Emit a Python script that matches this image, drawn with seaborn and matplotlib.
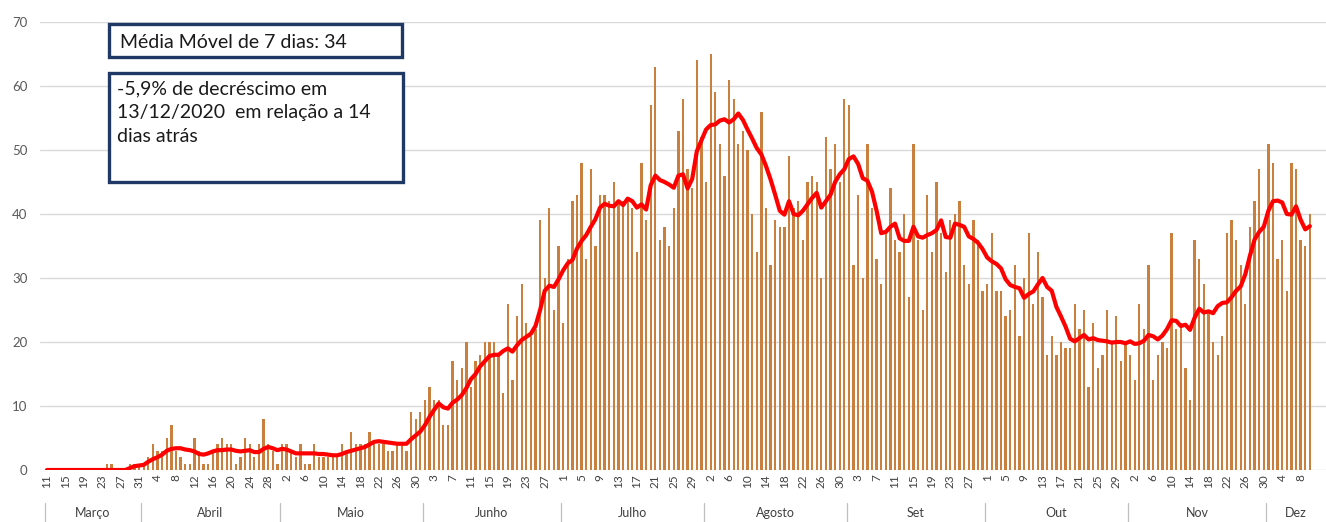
import numpy as np
import pandas as pd
import matplotlib
matplotlib.use("Agg")
import matplotlib.pyplot as plt
import seaborn as sns
from matplotlib.patches import Rectangle

# ---------------- data ----------------
start_date = "2020-03-11"
daily_cases = [
    0, 0, 0, 0, 0, 0, 0, 0, 0, 0,
    0, 0, 0, 1, 1, 0, 0, 0, 1, 1,
    1, 1, 2, 4, 3, 3, 5, 7, 3, 2,
    1, 1, 5, 3, 1, 1, 3, 4, 5, 4,
    4, 1, 2, 5, 4, 2, 4, 8, 4, 3,
    1, 4, 4, 3, 2, 4, 1, 1, 4, 2,
    2, 2, 2, 2, 4, 3, 6, 4, 4, 4,
    6, 4, 4, 4, 3, 3, 4, 4, 3, 9,
    8, 9, 11, 13, 11, 11, 7, 7, 17, 14,
    16, 20, 13, 17, 18, 20, 20, 20, 18, 12,
    26, 14, 24, 29, 23, 21, 22, 39, 30, 41,
    25, 35, 23, 33, 42, 43, 48, 33, 47, 35,
    43, 43, 42, 45, 42, 42, 42, 41, 34, 48,
    39, 57, 63, 36, 38, 35, 41, 53, 58, 47,
    44, 64, 52, 45, 65, 59, 51, 46, 61, 58,
    51, 53, 50, 40, 34, 56, 41, 32, 39, 38,
    38, 49, 41, 42, 36, 45, 46, 45, 30, 52,
    47, 51, 45, 58, 57, 32, 43, 30, 51, 41,
    33, 29, 37, 44, 36, 34, 40, 27, 51, 36,
    25, 43, 34, 45, 37, 31, 39, 40, 42, 32,
    29, 39, 36, 28, 29, 37, 28, 28, 24, 25,
    32, 21, 30, 37, 26, 34, 27, 18, 21, 18,
    20, 19, 19, 26, 22, 25, 13, 23, 16, 18,
    25, 20, 24, 17, 20, 18, 14, 26, 22, 32,
    14, 18, 20, 19, 37, 22, 23, 16, 11, 36,
    33, 29, 25, 20, 18, 21, 37, 39, 36, 32,
    26, 38, 42, 47, 38, 51, 48, 33, 36, 28,
    48, 47, 36, 35, 40,
]
moving_avg = [
    0, 0, 0, 0, 0, 0, 0, 0, 0, 0,
    0, 0, 0, 0, 0, 0, 0, 0, 0.3, 0.6,
    0.7, 0.8, 1.3, 1.7, 2.0, 2.4, 3.0, 3.3, 3.4, 3.4,
    3.2, 3.1, 2.9, 2.5, 2.4, 2.6, 2.9, 3.1, 3.1, 3.2,
    3.2, 3.0, 2.9, 3.0, 3.1, 2.8, 2.8, 3.3, 3.6, 3.4,
    3.1, 3.3, 3.2, 2.9, 2.6, 2.6, 2.6, 2.6, 2.6, 2.5,
    2.5, 2.4, 2.3, 2.3, 2.5, 2.8, 3.0, 3.2, 3.4, 3.6,
    4.0, 4.4, 4.5, 4.4, 4.3, 4.2, 4.1, 4.1, 4.1, 4.8,
    5.4, 6.0, 7.0, 8.3, 9.4, 10.4, 9.8, 9.6, 10.5, 11.0,
    11.7, 12.8, 14.2, 15.0, 16.2, 17.0, 17.8, 18.0, 18.0, 18.6,
    19.0, 18.5, 19.5, 20.3, 20.8, 21.3, 22.5, 25.0, 28.0, 28.8,
    28.6, 29.8, 31.2, 32.3, 32.8, 34.6, 35.8, 36.7, 38.0, 39.2,
    41.0, 41.6, 41.3, 41.2, 42.0, 41.4, 42.4, 42.0, 41.0, 41.5,
    40.7, 44.5, 46.0, 45.3, 45.0, 44.6, 44.1, 46.0, 46.2, 44.0,
    45.5, 49.8, 51.5, 53.2, 53.9, 54.0, 54.6, 54.8, 54.3, 54.8,
    55.7, 54.7, 53.2, 51.8, 50.3, 49.3, 47.5, 45.4, 43.0, 40.5,
    39.9, 42.0, 40.0, 39.8, 40.5, 41.5, 42.5, 43.3, 41.0, 42.0,
    43.0, 45.0, 46.2, 47.0, 48.6, 49.0, 47.8, 45.6, 45.2, 43.5,
    40.5, 37.0, 37.2, 38.0, 38.5, 36.2, 35.8, 35.8, 38.0, 36.5,
    36.3, 36.7, 37.0, 37.5, 39.0, 36.4, 36.3, 38.5, 38.3, 38.0,
    36.5, 36.1, 35.5, 34.5, 33.2, 32.6, 32.2, 31.5, 29.8, 28.9,
    28.6, 28.4, 26.9, 27.5, 27.9, 29.0, 30.0, 28.6, 28.0, 25.5,
    24.0, 22.4, 20.5, 20.1, 20.6, 21.1, 20.4, 20.6, 20.3, 20.2,
    20.1, 19.9, 20.0, 20.0, 19.8, 20.1, 19.7, 19.8, 20.2, 21.1,
    20.9, 20.4, 21.0, 22.0, 23.4, 23.3, 22.5, 22.7, 21.9, 23.8,
    25.2, 24.6, 24.8, 24.5, 25.6, 26.1, 26.2, 27.0, 28.0, 28.7,
    30.6, 33.5, 36.0, 37.2, 38.0, 40.5, 42.0, 42.1, 41.8, 40.0,
    39.9, 41.2, 39.1, 37.6, 38.1,
]
month_names = ["Março", "Abril", "Maio", "Junho", "Julho", "Agosto",
               "Set", "Out", "Nov", "Dez"]
y_ticks = [0, 10, 20, 30, 40, 50, 60, 70]
box1_text = "Média Móvel de 7 dias: 34"
box2_text = "-5,9% de decréscimo em\n13/12/2020  em relação a 14\ndias atrás"
end_date = "2020-12-13"

# ---------------- frame ----------------
n = len(daily_cases)
dates = pd.date_range(start_date, periods=n)
df = pd.DataFrame({"d": np.arange(n), "casos": daily_cases, "mm": moving_avg[:n]})

sns.set_style("white")
plt.rcParams["font.family"] = ["Lato", "DejaVu Sans"]

W, H = 1326, 522
fig = plt.figure(figsize=(W / 100, H / 100), dpi=100)
ax_left, ax_right, ax_top, ax_bot = 40, 1326, 22, 470
ax = fig.add_axes([ax_left / W, 1 - ax_bot / H, (ax_right - ax_left) / W, (ax_bot - ax_top) / H])

sns.barplot(data=df, x="d", y="casos", native_scale=True, color="#E07E28",
            width=0.5, errorbar=None, ax=ax, zorder=2, linewidth=0)
sns.lineplot(data=df, x="d", y="mm", color="#FF0000", linewidth=3.0, ax=ax, zorder=3)

ax.set_xlim(-1.5, 275.05)
ax.set_ylim(0, 70)
ax.set_xlabel("")
ax.set_ylabel("")
for s in ax.spines.values():
    s.set_visible(False)

ax.set_yticks(y_ticks)
ax.yaxis.grid(True, color="#D9D9D9", linewidth=1.0, zorder=0)
ax.set_axisbelow(True)
ax.tick_params(axis="y", length=0, pad=9, labelsize=9.5, labelcolor="#595959")

# day labels every 4 days
tick_pos = np.arange(0, n, 4)
ax.set_xticks(tick_pos)
ax.set_xticklabels([str(dates[i].day) for i in tick_pos], rotation=90,
                   fontsize=8.5, color="#404040")
ax.tick_params(axis="x", length=0, pad=3)
ax.set_xticks(np.arange(-0.5, n + 3, 1), minor=True)
ax.tick_params(axis="x", which="minor", length=23, width=0.6, color="#D0D0D0",
               direction="out")

# month rows
trans = ax.get_xaxis_transform()
all_dates = pd.date_range(start_date, end_date)
month_idx = pd.Series(np.arange(len(all_dates)), index=all_dates)
groups = month_idx.groupby([all_dates.year, all_dates.month])
y_sep_top = -(503 - ax_bot) / (ax_bot - ax_top)
y_sep_bot = -(522 - ax_bot) / (ax_bot - ax_top)
y_mlab = -(513 - ax_bot) / (ax_bot - ax_top)
for name, (_, g) in zip(month_names, groups):
    first, last = g.iloc[0], g.iloc[-1]
    ax.plot([first - 0.5, first - 0.5], [y_sep_top, y_sep_bot], transform=trans,
            color="#BFBFBF", linewidth=0.9, clip_on=False)
    ax.text((first + last) / 2, y_mlab, name, transform=trans, ha="center",
            va="center", fontsize=9, color="#404040", clip_on=False)

# annotation boxes
def fig_rect(x0, y0, x1, y1):
    return Rectangle((x0 / W, 1 - y1 / H), (x1 - x0) / W, (y1 - y0) / H,
                     transform=fig.transFigure, facecolor="white",
                     edgecolor="#1F3864", linewidth=2.4, zorder=10)

fig.patches.append(fig_rect(109, 24, 402, 57))
fig.patches.append(fig_rect(109, 73, 403, 182))
fig.text(120 / W, 1 - 42 / H, box1_text, fontsize=14, color="#1a1a1a",
         va="center", ha="left", zorder=11)
fig.text(117 / W, 1 - 80 / H, box2_text, fontsize=14, color="#1a1a1a",
         va="top", ha="left", linespacing=1.5, zorder=11)

fig.savefig("out.png", dpi=100)
